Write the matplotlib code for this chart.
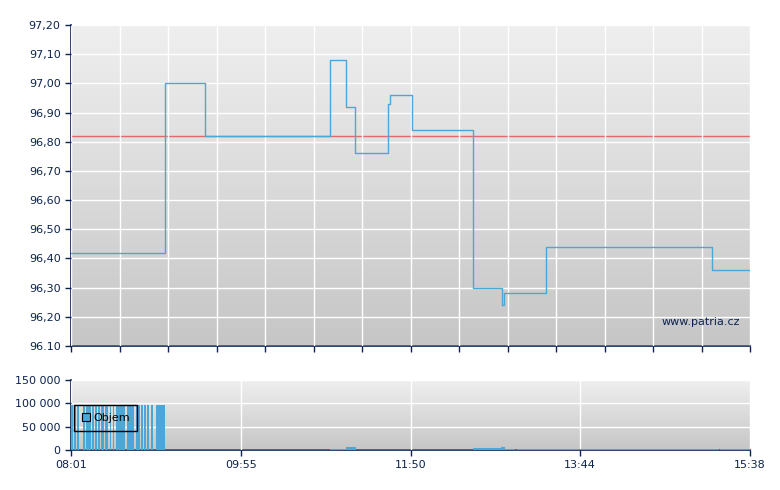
import matplotlib.pyplot as plt
import numpy as np

# cas v minutach od 08:01
cas = [0, 63.3, 90.2, 174.3, 185.1, 191.1, 213.4, 214.7, 229.5, 270.6, 290.1, 291.4, 319.7, 431.4, 457]
cena = [96.42, 97.00, 96.82, 97.08, 96.92, 96.76, 96.93, 96.96, 96.84, 96.30, 96.24, 96.28, 96.44, 96.36, 96.36]
predchozi = 96.82

# objem - rano huste obchody
objem_min = [0, 2, 4, 8, 10, 11, 12, 14, 16, 18, 20, 21, 23, 24, 26, 28, 30, 31, 32, 33, 34, 35,
             38, 39, 40, 41, 44, 45, 47, 49, 51, 54, 57, 58, 59, 60, 61, 62]
objem_val = [97000] * len(objem_min)
# pozdejsi useky: zacatek, konec, objem
useky_od = [174.3, 185.1, 270.6, 289.5, 292.0, 300.0, 436.5]
useky_do = [185.1, 191.8, 289.5, 292.0, 298.5, 435.8, 457.0]
useky_val = [1800, 6000, 3800, 6500, 1800, 1400, 1600]

y_ticks = [96.10, 96.20, 96.30, 96.40, 96.50, 96.60, 96.70, 96.80, 96.90, 97.00, 97.10, 97.20]
y_labels = ['96.10', '96,20', '96,30', '96,40', '96,50', '96,60', '96,70', '96,80', '96,90', '97,00', '97,10', '97,20']
obj_ticks = [0, 50000, 100000, 150000]
obj_labels = ['0', '50 000', '100 000', '150 000']
x_labels = ['08:01', '09:55', '11:50', '13:44', '15:38']

navy = '#0b2350'
modra = '#4aa7d6'
konec = 457

fig = plt.figure(figsize=(7.8, 4.9), dpi=100)
ax = fig.add_axes([71 / 780, 1 - 346 / 490, 679 / 780, 321 / 490])
ax2 = fig.add_axes([71 / 780, 1 - 450 / 490, 679 / 780, 70 / 490])


def pozadi(a, top, bottom):
    grad = np.linspace(0, 1, 256).reshape(-1, 1)
    cmap = plt.matplotlib.colors.LinearSegmentedColormap.from_list('g', [top, bottom])
    a.imshow(grad, extent=[0, 1, 0, 1], transform=a.transAxes, aspect='auto',
             cmap=cmap, zorder=0, origin='upper')


for a in (ax, ax2):
    pozadi(a, '#efefef', '#c6c6c6')
    for s in ('top', 'right'):
        a.spines[s].set_visible(False)
    for s in ('left', 'bottom'):
        a.spines[s].set_color(navy)
        a.spines[s].set_linewidth(1.2)
    a.tick_params(colors=navy, labelcolor=navy, labelsize=8, length=4, direction='out', width=1)
    a.grid(True, color='white', linewidth=1.0, zorder=1)
    a.set_axisbelow(False)
    a.set_xlim(0, konec)

# hlavni graf
ax.set_ylim(96.10, 97.20)
ax.set_yticks(y_ticks)
ax.set_yticklabels(y_labels)
ax.set_xticks(np.linspace(0, konec, 15))
ax.set_xticklabels([])
ax.axhline(predchozi, color='#e06a6a', linewidth=1.0, zorder=2)
ax.step(cas, cena, where='post', color=modra, linewidth=1.0, zorder=3)
ax.text(0.985, 0.06, 'www.patria.cz', transform=ax.transAxes, ha='right', va='bottom',
        color=navy, fontsize=8, zorder=4)

# objem
ax2.set_ylim(0, 150000)
ax2.set_yticks(obj_ticks)
ax2.set_yticklabels(obj_labels)
ax2.set_xticks(np.linspace(0, konec, 5))
ax2.set_xticklabels(x_labels)
ax2.bar(objem_min, objem_val, width=1.2, align='edge', color=modra, zorder=3,
        linewidth=0, label='Objem')
ax2.bar(useky_od, useky_val, width=np.array(useky_do) - np.array(useky_od), align='edge',
        color=modra, zorder=3, linewidth=0)
handle = plt.Line2D([], [], marker='s', linestyle='none', markersize=6,
                    markerfacecolor=modra, markeredgecolor='black', markeredgewidth=0.8)
leg = ax2.legend([handle], ['Objem'], loc='upper left', bbox_to_anchor=(0.0044, 0.643),
                 frameon=True, fancybox=False, fontsize=8, handlelength=0.7,
                 handletextpad=0.3, borderpad=0.7, borderaxespad=0)
ramec = leg.get_frame()
ramec.set_alpha(None)
ramec.set_facecolor('none')
ramec.set_edgecolor('black')
ramec.set_linewidth(1)
for t in leg.get_texts():
    t.set_color('black')
leg.set_zorder(5)

fig.savefig('out.png', dpi=100)
